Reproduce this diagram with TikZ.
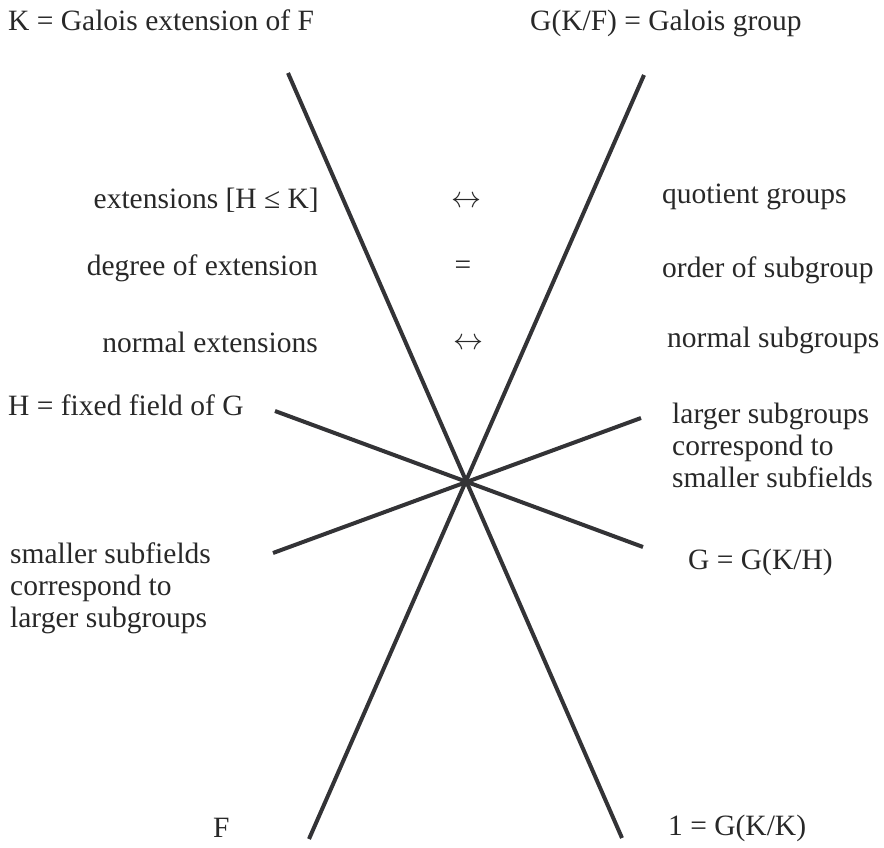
\documentclass[tikz,border=0pt]{standalone}
\usepackage{graphicx}
\usepackage{fontspec}
\setmainfont{Liberation Serif}
\usepackage{tikz}
\usetikzlibrary{positioning}
\definecolor{LineGray}{RGB}{51,51,54}
\definecolor{TextGray}{RGB}{40,40,40}
\newcommand{\corrarrow}{\resizebox{30pt}{!}{$\leftrightarrow$}}

\begin{document}
\begin{tikzpicture}[x=1pt,y=-1pt,
    lbl/.style={inner sep=0pt,text=TextGray,font=\fontsize{29.5}{32}\selectfont},
    bar/.style={line width=4pt,LineGray}]
      \useasboundingbox (0,0) rectangle (884,848);
      % the four lines through the centre
      \coordinate (ctr) at (466,482);
      \coordinate (ul) at (288,73);
      \coordinate (lr) at (622,838);
      \coordinate (ur) at (644,75);
      \coordinate (ll) at (309,839);
      \coordinate (hl) at (275,411);
      \coordinate (hr) at (643,547);
      \coordinate (sl) at (273,553);
      \coordinate (sr) at (641,418);
      \draw[bar] (ul)--(lr);
      \draw[bar] (ur)--(ll);
      \draw[bar] (hl)--(hr);
      \draw[bar] (sl)--(sr);
      % field side
      \node[lbl,anchor=west] (kgal) at (8,20) {K = Galois extension of F};
      \node[lbl,anchor=east] (ext) at (319,200) {extensions [H ≤ K]};
      \node[lbl,anchor=east] (deg) at (318,268) {degree of extension};
      \node[lbl,anchor=east] (nrmext) at (318,342) {normal extensions};
      \node[lbl,anchor=west] (fixed) at (8,405) {H = fixed field of G};
      \node[lbl,anchor=west,align=left] (smaller) at (10,588) {smaller subfields\\correspond to\\larger subgroups};
      \node[lbl,anchor=west] (fbase) at (213,828) {F};
      % middle
      \node[lbl] (corr1) at (466,202) {\corrarrow};
      \node[lbl] (equal) at (463,268) {=};
      \node[lbl] (corr2) at (468,344) {\corrarrow};
      % group side
      \node[lbl,anchor=west] (ggal) at (530,23) {G(K/F) = Galois group};
      \node[lbl,anchor=west] (quot) at (662,197) {quotient groups};
      \node[lbl,anchor=west] (ord) at (662,270) {order of subgroup};
      \node[lbl,anchor=west] (nrmsub) at (667,340) {normal subgroups};
      \node[lbl,anchor=west,align=left] (larger) at (672,445) {larger subgroups\\correspond to\\smaller subfields};
      \node[lbl,anchor=west] (gkh) at (688,562) {G = G(K/H)};
      \node[lbl,anchor=west] (trivial) at (668,828) {1 = G(K/K)};
    \end{tikzpicture}
\end{document}
